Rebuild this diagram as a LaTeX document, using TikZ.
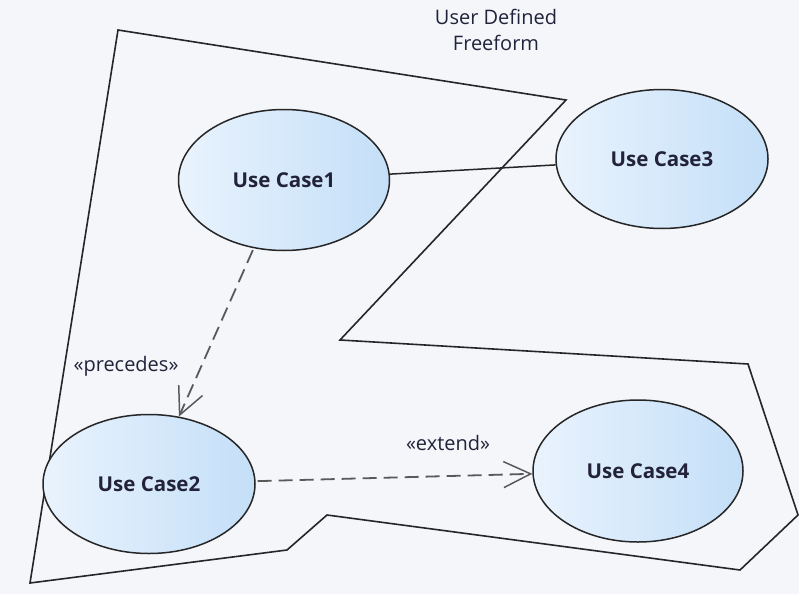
\documentclass[tikz,border=0pt]{standalone}
\usepackage{fontspec}
\setmainfont{Open Sans}
\usepackage{tikz}
\usetikzlibrary{arrows.meta,positioning,shapes.geometric}

\definecolor{bgcol}{HTML}{F4F6FA}
\definecolor{ucleft}{HTML}{E9F3FD}
\definecolor{ucright}{HTML}{C4DFF8}
\definecolor{inkcol}{HTML}{22223A}

\begin{document}
\begin{tikzpicture}[
  x=1pt, y=-1pt,
  font=\fontsize{20}{26}\selectfont,
  usecase/.style={
    ellipse, draw=black!85, line width=1.5pt, inner sep=0pt,
    left color=ucleft, right color=ucright, shading angle=90,
    font=\fontsize{20.5}{24}\selectfont\bfseries, text=inkcol},
  freeform/.style={draw=black!85, line width=1.6pt, line join=miter},
  lbl/.style={text=inkcol, inner sep=1pt},
  assoc/.style={draw=black!85, line width=1.5pt},
  dep/.style={draw=black!65, line width=1.8pt, dash pattern=on 14pt off 7pt,
    shorten <=2pt,
    -{Straight Barb[length=27pt, width=26pt, line width=1.5pt]}}
]

% canvas
\fill[bgcol] (0,0) rectangle (799,594);
\useasboundingbox (0,0) rectangle (799,594);

% the freeform outline
\draw[freeform] (118,30) -- (566,100) -- (340,340) -- (748,364) -- (798,515)
  -- (740,570) -- (327,515) -- (287,550) -- (30,583) -- cycle;

\node[lbl, align=center] (title) at (496,30) {User Defined\\Freeform};

% use cases
\node[usecase, minimum width=211pt, minimum height=141pt] (uc1) at (284,180) {Use Case1};
\node[usecase, minimum width=212pt, minimum height=139pt] (uc3) at (662,159) {Use Case3};
\node[usecase, minimum width=212pt, minimum height=139pt] (uc2) at (149,484) {Use Case2};
\node[usecase, minimum width=210pt, minimum height=142pt] (uc4) at (638,471) {Use Case4};

% relationships
\draw[assoc] (uc1) -- (uc3);
\draw[dep] (uc1) -- (uc2);
\draw[dep] (uc2) -- (uc4);

\node[lbl] (prec) at (126,366) {«precedes»};
\node[lbl] (ext) at (448,443) {«extend»};

\end{tikzpicture}
\end{document}
